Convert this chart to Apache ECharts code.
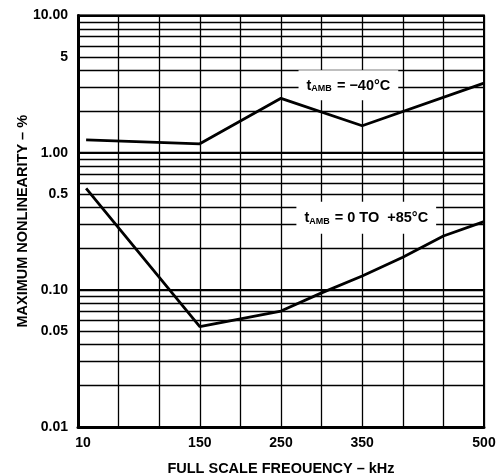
<!DOCTYPE html>
<html><head><meta charset="utf-8">
<script src="https://cdn.jsdelivr.net/npm/echarts@6/dist/echarts.min.js"></script>
<style>html,body{margin:0;padding:0;background:#fff}#c{width:496px;height:473px}</style>
</head><body><div id="c"></div>
<script>
// Data
const freqCold = [10, 150, 250, 350, 500];
const nonlinCold = [1.24, 1.16, 2.49, 1.57, 3.21];
const freqWarm = [10, 150, 250, 300, 350, 400, 450, 500];
const nonlinWarm = [0.55, 0.054, 0.070, 0.095, 0.126, 0.173, 0.247, 0.314];
const xTickValues = [0, 150, 250, 350, 500];
const xTickLabels = ['10', '150', '250', '350', '500'];
const yLabelValues = [0.01, 0.05, 0.1, 0.5, 1, 5, 10];
const yLabelTexts = ['0.01', '0.05', '0.10', '0.5', '1.00', '5', '10.00'];
const yGridValues = [0.01, 0.02, 0.03, 0.04, 0.05, 0.06, 0.07, 0.08, 0.09,
  0.1, 0.2, 0.3, 0.4, 0.5, 0.6, 0.7, 0.8, 0.9,
  1, 2, 3, 4, 5, 6, 7, 8, 9, 10];

const FONT = "'Liberation Sans', Arial, sans-serif";
const pair = (xs, ys) => xs.map((x, i) => [x, ys[i]]);
const xLabelMap = {};
xTickValues.forEach((v, i) => { xLabelMap[v] = xTickLabels[i]; });
const yLabelMap = {};
yLabelValues.forEach((v, i) => { yLabelMap[String(v)] = yLabelTexts[i]; });

const richTxt = {
  t: { fontFamily: FONT, fontWeight: 'bold', fontSize: 14.5, color: '#000' },
  s: { fontFamily: FONT, fontWeight: 'bold', fontSize: 9, color: '#000', padding: [6, 1, 0, 0] }
};

const chart = echarts.init(document.getElementById('c'));
chart.setOption({
  animation: false,
  backgroundColor: '#fff',
  grid: { left: 78, right: 12, top: 15.5, bottom: 46, show: true, borderColor: '#000', borderWidth: 2,
          containLabel: false, outerBoundsMode: 'none' },
  xAxis: {
    type: 'value', min: 0, max: 500, interval: 50,
    name: 'FULL SCALE FREQUENCY – kHz', nameLocation: 'middle', nameGap: 34, nameMoveOverlap: false,
    nameTextStyle: { fontFamily: FONT, fontWeight: 'bold', fontSize: 14.5, color: '#000' },
    axisLine: { show: true, lineStyle: { color: '#000', width: 3 } },
    axisTick: { show: false },
    axisLabel: {
      color: '#000', fontFamily: FONT, fontWeight: 'bold', fontSize: 14, margin: 9,
      formatter: v => (v in xLabelMap) ? (v === 0 ? '{l|' + xLabelMap[v] + '}' : xLabelMap[v]) : '',
      rich: { l: { fontFamily: FONT, fontWeight: 'bold', fontSize: 14, color: '#000', padding: [0, 0, 0, 10] } }
    },
    splitLine: { show: true, lineStyle: { color: '#000', width: 1.3 } }
  },
  yAxis: [{
    type: 'log', logBase: 10, min: 0.01, max: 10,
    name: 'MAXIMUM NONLINEARITY – %', nameLocation: 'middle', nameGap: 48, nameRotate: 90, nameMoveOverlap: false,
    nameTextStyle: { fontFamily: FONT, fontWeight: 'bold', fontSize: 14.5, color: '#000' },
    axisLine: { show: true, lineStyle: { color: '#000', width: 3 } },
    axisTick: { show: false, customValues: yGridValues },
    axisLabel: {
      customValues: yLabelValues,
      color: '#000', fontFamily: FONT, fontWeight: 'bold', fontSize: 14, margin: 10,
      formatter: v => yLabelMap[String(+(+v).toPrecision(6))] || ''
    },
    splitLine: { show: true, lineStyle: { color: '#000', width: 1.3 } }
  }, {
    type: 'log', logBase: 10, min: 0.01, max: 10, position: 'left',
    axisLine: { show: false }, axisTick: { show: false }, axisLabel: { show: false },
    splitLine: { show: true, lineStyle: { color: '#000', width: 2.2 } }
  }],
  series: [{
    type: 'line', data: pair(freqCold, nonlinCold), symbol: 'none', z: 5,
    lineStyle: { color: '#000', width: 2.8 },
    markPoint: {
      symbol: 'rect', symbolSize: 0, z: 6,
      label: {
        show: true, position: 'inside', backgroundColor: '#fff', padding: [8, 8, 7, 8],
        formatter: '{t|t}{s|AMB}{t| = −40°C}', rich: richTxt
      },
      data: [{ coord: [333, 3.1] }]
    }
  }, {
    type: 'line', data: pair(freqWarm, nonlinWarm), symbol: 'none', z: 5,
    lineStyle: { color: '#000', width: 2.8 },
    markPoint: {
      symbol: 'rect', symbolSize: 0, z: 6,
      label: {
        show: true, position: 'inside', backgroundColor: '#fff', padding: [9, 8, 8, 8],
        formatter: '{t|t}{s|AMB}{t| = 0 TO  +85°C}', rich: richTxt
      },
      data: [{ coord: [355, 0.335] }]
    }
  }]
});
</script></body></html>
